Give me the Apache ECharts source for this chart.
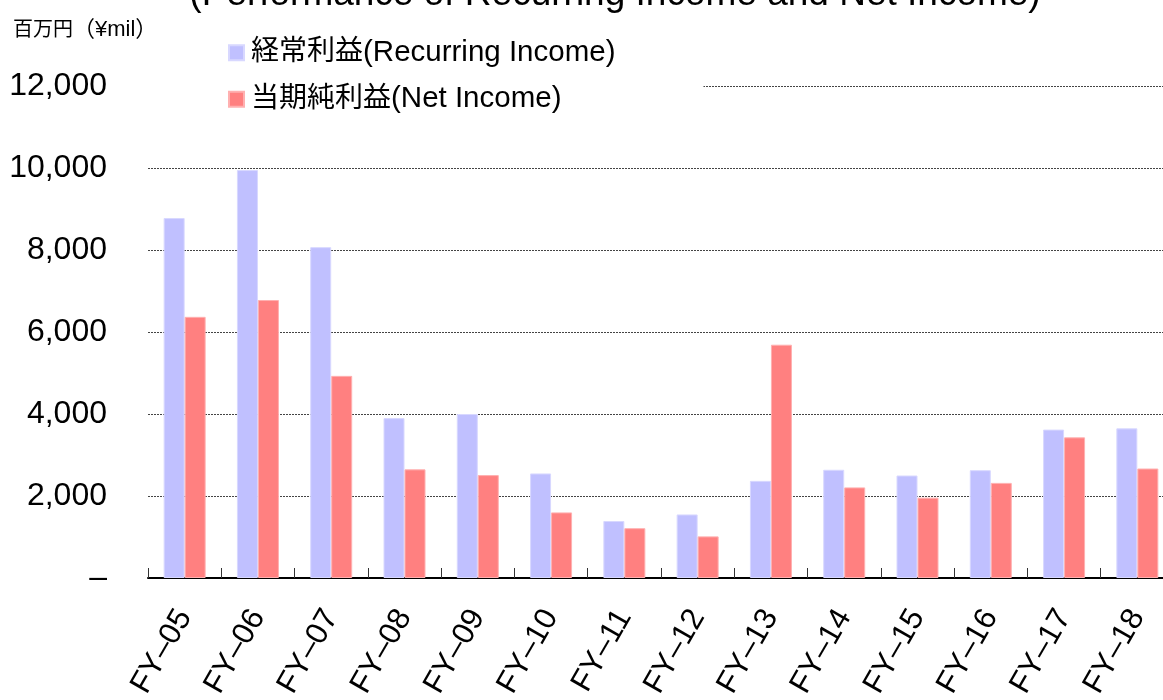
<!DOCTYPE html>
<html>
<head>
<meta charset="utf-8">
<script src="https://cdn.jsdelivr.net/npm/echarts@6/dist/echarts.min.js"></script>
<style>
html,body{margin:0;padding:0;background:#fff;}
#chart{width:1163px;height:700px;}
</style>
</head>
<body>
<div id="chart"></div>
<script>
const categories = ['FY–05','FY–06','FY–07','FY–08','FY–09','FY–10','FY–11','FY–12','FY–13','FY–14','FY–15','FY–16','FY–17','FY–18'];
const recurringIncome = [8780, 9950, 8070, 3900, 4000, 2550, 1390, 1550, 2370, 2640, 2500, 2630, 3620, 3650];
const netIncome = [6370, 6780, 4930, 2650, 2510, 1600, 1215, 1015, 5690, 2210, 1960, 2320, 3430, 2670];
const seriesNames = ['経常利益(Recurring Income)', '当期純利益(Net Income)'];
const yTicks = [0, 2000, 4000, 6000, 8000, 10000, 12000];
const titleText = '(Performance of Recurring Income and Net Income)';
const unitCJK = '百万円';
const unitLatin = '（¥mil）';

const FONT = '"Liberation Sans", "Noto Sans CJK JP", sans-serif';
const chart = echarts.init(document.getElementById('chart'));

function splitName(name) {
  const i = name.indexOf('(');
  return '{c|' + name.slice(0, i) + '}{l|' + name.slice(i) + '}';
}

chart.setOption({
  animation: false,
  backgroundColor: '#fff',
  textStyle: { fontFamily: FONT },
  graphic: [
    { type: 'text', x: 615, y: 13, style: { text: titleText, fontSize: 37, fontFamily: FONT, fill: '#000', align: 'center', verticalAlign: 'bottom' } },
    { type: 'text', x: 13, y: 30, style: {
        text: '{c|' + unitCJK + '}{l|' + unitLatin + '}', fontFamily: FONT, fill: '#000', align: 'left', verticalAlign: 'middle',
        rich: { c: { fontSize: 20, fontFamily: FONT, fill: '#000' }, l: { fontSize: 22, fontFamily: FONT, fill: '#000' } }
    } }
  ],
  legend: {
    orient: 'vertical',
    left: 148,
    top: 36,
    padding: [2, 88, 2, 80],
    backgroundColor: '#fff',
    itemWidth: 15,
    itemHeight: 15,
    itemGap: 17,
    icon: 'rect',
    formatter: splitName,
    textStyle: {
      fontSize: 28, lineHeight: 28, color: '#000', fontFamily: FONT, padding: [0, 0, 0, 2],
      rich: {
        c: { fontSize: 28, lineHeight: 28, color: '#000', fontFamily: FONT },
        l: { fontSize: 29.5, lineHeight: 28, color: '#000', fontFamily: FONT }
      }
    },
    data: seriesNames
  },
  grid: { left: 148, right: -11, top: 86, bottom: 122, containLabel: false, outerBoundsMode: 'none' },
  xAxis: {
    type: 'category',
    data: categories,
    boundaryGap: true,
    axisLine: { show: true, lineStyle: { color: '#000', width: 2 } },
    axisTick: { show: true, inside: true, length: 10, lineStyle: { color: '#333', width: 1 } },
    axisLabel: { rotate: 60, fontSize: 31, color: '#000', margin: 34, interval: 0, fontFamily: FONT }
  },
  yAxis: {
    type: 'value',
    min: yTicks[0],
    max: yTicks[yTicks.length - 1],
    interval: yTicks[1] - yTicks[0],
    axisLine: { show: false },
    axisTick: { show: false },
    axisLabel: {
      fontSize: 32, color: '#000', margin: 41, fontFamily: FONT,
      formatter: v => v === 0 ? '–' : v.toLocaleString('en-US')
    },
    splitLine: { show: true, lineStyle: { color: '#444', type: [2, 1], width: 1 } }
  },
  series: [
    { name: seriesNames[0], type: 'bar', data: recurringIncome, barWidth: 21, barGap: '0%', itemStyle: { color: '#C0C0FF', borderColor: '#D8D8FF', borderWidth: 1 } },
    { name: seriesNames[1], type: 'bar', data: netIncome, barWidth: 21, barGap: '0%', itemStyle: { color: '#FF8080', borderColor: '#FFB0B0', borderWidth: 1 } }
  ]
});
</script>
</body>
</html>
